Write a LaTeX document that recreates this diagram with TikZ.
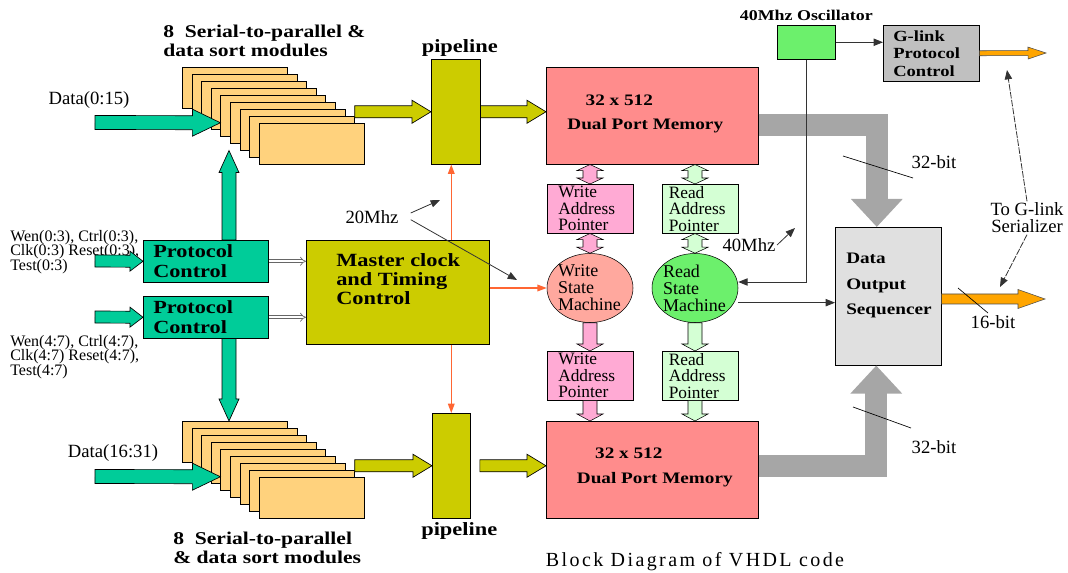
\documentclass[tikz,border=0pt]{standalone}
\usepackage{fontspec}
\setmainfont[BoldFeatures={FakeStretch=1.2}]{Liberation Serif}
\usepackage{tikz}
\usetikzlibrary{positioning, arrows.meta, shapes.geometric, calc}

\definecolor{tealfill}{RGB}{0,204,153}
\definecolor{olivefill}{RGB}{204,204,0}
\definecolor{modfill}{RGB}{255,210,125}
\definecolor{memfill}{RGB}{255,140,140}
\definecolor{wptrfill}{RGB}{255,170,212}
\definecolor{rptrfill}{RGB}{212,255,212}
\definecolor{wsmfill}{RGB}{255,168,158}
\definecolor{rsmfill}{RGB}{108,240,108}
\definecolor{gfill}{RGB}{192,192,192}
\definecolor{dosfill}{RGB}{224,224,224}
\definecolor{busgray}{RGB}{166,166,166}
\definecolor{clkorange}{RGB}{255,102,51}
\definecolor{outorange}{RGB}{255,165,0}

% block arrow: style, tail, tip, half shaft, half head, head length (px)
\newcommand{\blk}[6]{%
  \coordinate (blk-b) at ($#3!#6*0.75pt!#2$);
  \draw[#1] ($#2!#4*0.75pt!90:#3$) -- ($(blk-b)!#4*0.75pt!90:#3$)
    -- ($(blk-b)!#5*0.75pt!90:#3$) -- #3
    -- ($(blk-b)!#5*0.75pt!-90:#3$) -- ($(blk-b)!#4*0.75pt!-90:#3$)
    -- ($#2!#4*0.75pt!-90:#3$) -- cycle;}
% same, with a head at both ends
\newcommand{\dblk}[6]{%
  \coordinate (blk-a) at ($#2!#6*0.75pt!#3$);
  \coordinate (blk-b) at ($#3!#6*0.75pt!#2$);
  \draw[#1] #2 -- ($(blk-a)!#5*0.75pt!90:#3$) -- ($(blk-a)!#4*0.75pt!90:#3$)
    -- ($(blk-b)!#4*0.75pt!90:#3$) -- ($(blk-b)!#5*0.75pt!90:#3$) -- #3
    -- ($(blk-b)!#5*0.75pt!-90:#3$) -- ($(blk-b)!#4*0.75pt!-90:#3$)
    -- ($(blk-a)!#4*0.75pt!-90:#3$) -- ($(blk-a)!#5*0.75pt!-90:#3$) -- cycle;}

\tikzset{
  module/.style  ={draw, fill=modfill, minimum width=78.75pt, minimum height=30.75pt,
                   inner sep=0pt, anchor=north west},
  pipe/.style    ={draw, fill=olivefill, minimum height=78.75pt, inner sep=0pt, anchor=north west},
  mem/.style     ={draw, fill=memfill, minimum width=159pt, minimum height=72.75pt,
                   inner sep=0pt, anchor=north west},
  memtext/.style ={font=\bfseries\fontsize{12}{14}\selectfont, inner sep=0pt},
  ptr/.style     ={draw, minimum height=36.75pt, inner ysep=0pt, anchor=north west,
                   align=left, font=\fontsize{13}{12.4}\selectfont},
  wptr/.style    ={ptr, fill=wptrfill, text width=48pt, inner xsep=8.25pt},
  rptr/.style    ={ptr, fill=rptrfill, text width=47.25pt, inner xsep=4.875pt},
  sm/.style      ={draw, ellipse, minimum width=64.5pt, minimum height=51.75pt, inner sep=0pt},
  smtext/.style  ={text width=48pt, align=left, inner sep=0pt,
                   font=\fontsize{13.5}{12.75}\selectfont},
  proto/.style   ={draw, fill=tealfill, anchor=north west, text width=78.75pt, inner xsep=7.5pt,
                   inner ysep=0pt, minimum height=31.5pt, align=left,
                   font=\bfseries\fontsize{13.9}{15}\selectfont},
  master/.style  ={draw, fill=olivefill, minimum width=137.25pt, minimum height=78pt,
                   inner sep=0pt, anchor=north west},
  boldtext/.style={anchor=north west, align=left, inner sep=0pt},
  osc/.style     ={draw, fill=rsmfill, minimum width=43.5pt, minimum height=25.5pt,
                   inner sep=0pt, anchor=north west},
  glink/.style   ={draw, fill=gfill, anchor=north west, text width=57pt, inner xsep=7.5pt,
                   inner ysep=0pt, minimum height=42pt, align=left,
                   font=\bfseries\fontsize{11.6}{13.1}\selectfont},
  dos/.style     ={draw, fill=dosfill, minimum width=79.5pt, minimum height=103.5pt,
                   inner sep=0pt, anchor=north west},
  modtitle/.style={align=left, anchor=west, inner sep=0pt,
                   font=\bfseries\fontsize{13.5}{14.3}\selectfont},
  hdr/.style     ={inner sep=0pt, font=\bfseries\fontsize{14}{16}\selectfont},
  lbl/.style     ={inner sep=1pt, align=center, font=\fontsize{14}{12.75}\selectfont},
  siglbl/.style  ={inner sep=0pt, align=left, anchor=west, font=\fontsize{12}{10.9}\selectfont},
  tealarrow/.style={draw=black, line width=0.5pt, fill=tealfill},
  olivearrow/.style={draw=black, line width=0.5pt, fill=olivefill},
  wparrow/.style ={draw=black, line width=0.4pt, fill=wptrfill},
  rparrow/.style ={draw=black, line width=0.4pt, fill=rptrfill},
  outarrow/.style={draw=black!70, line width=0.4pt, fill=outorange},
  dbl/.style     ={draw=black!60, double=white, double distance=1.8pt, line width=0.5pt, -{Implies}},
  clk/.style     ={draw=clkorange, line width=0.9pt, ->, >={Triangle[length=7pt, width=5pt]}},
  bus/.style     ={draw=busgray, line width=16.5pt, -{Triangle[length=21pt, width=37.5pt]}},
  sig/.style     ={draw=black!80, line width=0.6pt, ->},
  note/.style    ={draw=black!80, line width=0.6pt, dash pattern=on 5pt off 1pt, ->},
  tickline/.style={draw=black, line width=0.5pt},
}

\begin{document}
\begin{tikzpicture}[x=0.75pt, y=-0.75pt, >={Triangle[length=7pt, width=5.5pt]}]
  \useasboundingbox (0,0) rectangle (1068,573);

  % serial-to-parallel stacks
  \node[modtitle] (titleA) at (163,40.5) {8\ \ Serial-to-parallel \&\\data sort modules};
  \node[modtitle] (titleB) at (173,548) {8\ \ Serial-to-parallel\\\& data sort modules};
  \foreach \i in {0,...,8} {
    \node[module] (modA\i) at ({182+9.6*\i},{67+7*\i}) {};
    \node[module] (modB\i) at ({182+9.6*\i},{421+7*\i}) {};
  }

  % pipelines and memories
  \node[pipe, minimum width=36.75pt] (pipe1) at (431,59) {};
  \node[pipe, minimum width=28.5pt] (pipe2) at (432,413) {};
  \node[hdr, above=2pt of pipe1, xshift=3pt] (pipelbl1) {pipeline};
  \node[hdr, below=3pt of pipe2, xshift=6pt] (pipelbl2) {pipeline};
  \node[mem] (mem1) at (546,67) {};
  \node[memtext] (mem1a) at ([shift={(-33,-15.5)}]mem1.center) {32 x 512};
  \node[memtext] (mem1b) at ([shift={(-7,9.5)}]mem1.center) {Dual Port Memory};
  \node[mem] (mem2) at (546,421) {};
  \node[memtext] (mem2a) at ([shift={(-23.5,-16.5)}]mem2.center) {32 x 512};
  \node[memtext] (mem2b) at ([shift={(2.5,9.5)}]mem2.center) {Dual Port Memory};

  % address pointers and state machines
  \node[wptr] (wp1) at (547,184) {Write\\Address\\Pointer};
  \node[rptr] (rp1) at (662,184) {Read\\Address\\Pointer};
  \node[wptr] (wp2) at (547,351) {Write\\Address\\Pointer};
  \node[rptr] (rp2) at (662,351) {Read\\Address\\Pointer};
  \node[sm, fill=wsmfill] (wsm) at (590,288) {};
  \node[sm, fill=rsmfill] (rsm) at (695,288) {};
  \node[smtext] (wsmt) at (wsm) {Write\\State\\Machine};
  \node[smtext] (rsmt) at (rsm) {Read\\State\\Machine};

  % control
  \node[master] (master) at (306,240) {};
  \node[boldtext, font=\bfseries\fontsize{14}{14.25}\selectfont] (mastert)
    at ([shift={(30,13)}]master.north west) {Master clock\\and Timing\\Control};
  \node[proto] (prot1) at (143,240) {Protocol\\Control};
  \node[proto] (prot2) at (143,296) {Protocol\\Control};
  \node[siglbl] (sigA) at (10,252) {Wen(0:3), Ctrl(0:3),\\Clk(0:3) Reset(0:3),\\Test(0:3)};
  \node[siglbl] (sigB) at (10,357) {Wen(4:7), Ctrl(4:7),\\Clk(4:7) Reset(4:7),\\Test(4:7)};

  % output side
  \node[osc] (osc) at (777,25) {};
  \node[hdr, font=\bfseries\fontsize{11.2}{13}\selectfont, above=3pt of osc] (osclbl) {40Mhz Oscillator};
  \node[glink] (glink) at (883,25) {G-link\\Protocol\\Control};
  \node[dos] (dos) at (835,227) {};
  \node[boldtext, font=\bfseries\fontsize{12}{19}\selectfont] (dost)
    at ([shift={(11,26)}]dos.north west) {Data\\Output\\Sequencer};

  % free ends
  \coordinate (dinA) at (95,122.5);
  \coordinate (dinB) at (95,476.5);
  \coordinate (pin1) at (95,261);
  \coordinate (pin2) at (95,317);
  \coordinate (vbus) at (229,0);
  \coordinate (gout) at (1046,53);
  \coordinate (dout) at (1045,299);
  \coordinate (clkA) at (440,200);
  \coordinate (clkB) at (517,280);
  \coordinate (clk40) at (795,228);
  \coordinate (serA) at (1007,70);
  \coordinate (serB) at (1000,287);

  % labels
  \node[lbl] (dlA) at (89,100) {Data(0:15)};
  \node[lbl] (dlB) at (113,453) {Data(16:31)};
  \node[lbl] (mhz20) at (372,217) {20Mhz};
  \node[lbl] (mhz40) at (749,245) {40Mhz};
  \node[lbl] (bitA) at (934,162) {32-bit};
  \node[lbl] (bitB) at (934,447) {32-bit};
  \node[lbl] (bitC) at (993,322) {16-bit};
  \node[lbl] (ser) at (1027,218) {To G-link\\Serializer};
  \node[inner sep=0pt, font=\fontsize{15}{18}\selectfont\addfontfeature{LetterSpace=12}] (cap)
    at (695,562) {Block Diagram of VHDL code};

  % data paths
  \blk{tealarrow}{(dinA)}{(modA4.west |- modA5.west)}{7}{13.5}{28}
  \blk{tealarrow}{(dinB)}{(modB4.west |- modB5.west)}{7}{13.5}{28}
  \blk{tealarrow}{(pin1)}{(prot1.west)}{6}{10}{13}
  \blk{tealarrow}{(pin2)}{(prot2.west)}{6}{10}{13}
  \blk{tealarrow}{(vbus |- prot1.north)}{(vbus |- modA6.south)}{7}{10}{22}
  \blk{tealarrow}{(vbus |- prot2.south)}{(vbus |- modB0.north)}{7}{10}{22}
  \blk{olivearrow}{(modA7.east |- pipe1.west)}{(pipe1.west)}{6}{11.5}{19}
  \blk{olivearrow}{(pipe1.east)}{(mem1.west |- pipe1.east)}{6}{11.5}{19}
  \blk{olivearrow}{(modB7.east |- pipe2.west)}{(pipe2.west)}{6}{11.5}{19}
  \blk{olivearrow}{([xshift=7pt]pipe2.east)}{(mem2.west |- pipe2.east)}{6}{11.5}{19}
  \draw[dbl] (prot1.east) -- (prot1.east -| master.west);
  \draw[dbl] (prot2.east) -- (prot2.east -| master.west);

  % address paths
  \dblk{wparrow}{(mem1.south -| wsm)}{(wp1.north -| wsm)}{7}{13}{6}
  \dblk{wparrow}{(wp1.south -| wsm)}{(wsm.north)}{7}{13}{6}
  \blk{wparrow}{(wsm.south)}{(wp2.north -| wsm)}{7}{13}{7}
  \blk{wparrow}{(wp2.south -| wsm)}{(mem2.north -| wsm)}{7}{13}{7}
  \dblk{rparrow}{(mem1.south -| rsm)}{(rp1.north -| rsm)}{7}{13}{6}
  \dblk{rparrow}{(rp1.south -| rsm)}{(rsm.north)}{7}{13}{6}
  \blk{rparrow}{(rsm.south)}{(rp2.north -| rsm)}{7}{13}{7}
  \blk{rparrow}{(rp2.south -| rsm)}{(mem2.north -| rsm)}{7}{13}{7}

  % 32-bit buses
  \draw[bus] ([yshift=-7.1pt]mem1.east) -| ([xshift=-8.6pt]dos.north);
  \draw[bus] ([yshift=2.6pt]mem2.east) -| ([xshift=-9pt]dos.south);

  % clocks
  \draw[clk] (pipe2.north |- master.north) -- (pipe2.north |- pipe1.south);
  \draw[clk] (master.south -| pipe2.north) -- (pipe2.north);
  \draw[clk] (master.east |- wsm.west) -- (wsm.west);
  \draw[sig] ([xshift=8pt,yshift=3pt]mhz20.east) -- (clkA);
  \draw[sig] ([xshift=8pt,yshift=-2pt]mhz20.east) -- (clkB);
  \draw[sig] (mhz40.east) -- (clk40);
  \draw[sig] (osc.east) -- (osc.east -| glink.west);
  \draw[sig] (osc.south) |- ([yshift=4.5pt]rsm.east);
  \draw[sig] ([yshift=-11pt]rsm.east) -- ([yshift=-11pt]rsm.east -| dos.west);

  % outputs
  \blk{outarrow}{(glink.east)}{(gout)}{2.5}{6}{18}
  \blk{outarrow}{(dos.east |- dout)}{(dout)}{5}{9.5}{27}
  \draw[note] (ser.north) -- (serA);
  \draw[note] (ser.south) -- (serB);
  \draw[tickline] (843,156) -- (913,178);
  \draw[tickline] (853,407) -- (911,428);
  \draw[tickline] (958,288) -- (988,313);
\end{tikzpicture}
\end{document}
